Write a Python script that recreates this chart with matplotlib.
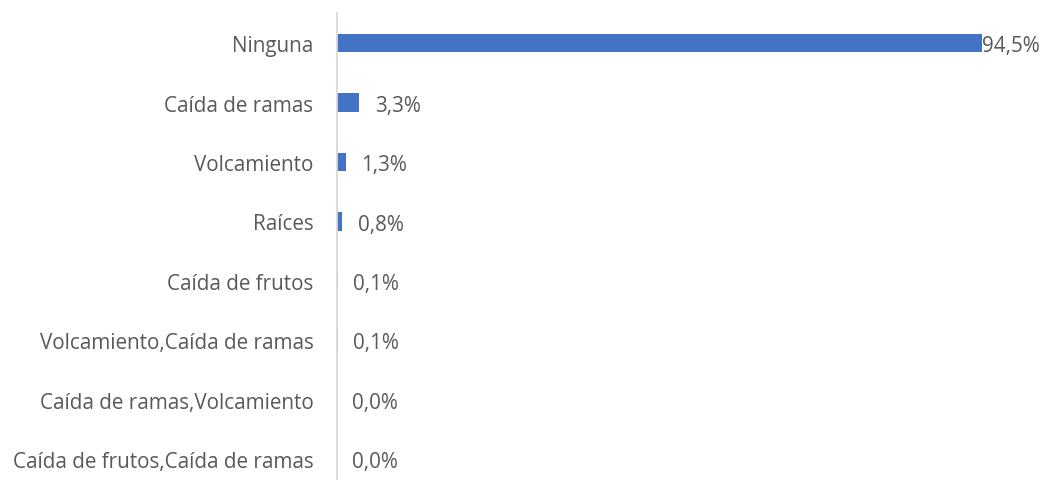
import matplotlib.pyplot as plt

categories = ['Ninguna', 'Caída de ramas', 'Volcamiento', 'Raíces',
              'Caída de frutos', 'Volcamiento,Caída de ramas',
              'Caída de ramas,Volcamiento', 'Caída de frutos,Caída de ramas']
values = [94.5, 3.3, 1.3, 0.8, 0.1, 0.1, 0.0, 0.0]
labels = ['94,5%', '3,3%', '1,3%', '0,8%', '0,1%', '0,1%', '0,0%', '0,0%']

plt.rcParams['font.family'] = ['Open Sans', 'DejaVu Sans']
txt = '#595959'

fig = plt.figure(figsize=(10.43, 4.81), dpi=100)
ax = fig.add_axes([0.323, -0.018, 0.677, 0.988])

y = list(range(len(categories)))
ax.barh(y, values, height=0.31, color='#4472C4')
ax.set_ylim(len(categories) - 0.5, -0.5)
ax.set_xlim(0, 103.4)

for i, (v, lab) in enumerate(zip(values, labels)):
    off = 0 if v > 50 else 11
    ax.annotate(lab, (v, i), xytext=(off, -2), textcoords='offset points',
                ha='left', va='center', fontsize=14.9, color=txt)

ax.set_yticks(y)
ax.set_yticklabels(categories, fontsize=14.9, color=txt)
ax.tick_params(axis='y', length=0, pad=17)
ax.set_xticks([])
for s in ['top', 'right', 'bottom']:
    ax.spines[s].set_visible(False)
ax.spines['left'].set_color('#D9D9D9')
ax.spines['left'].set_linewidth(1.3)

fig.savefig('out.png', dpi=100)
